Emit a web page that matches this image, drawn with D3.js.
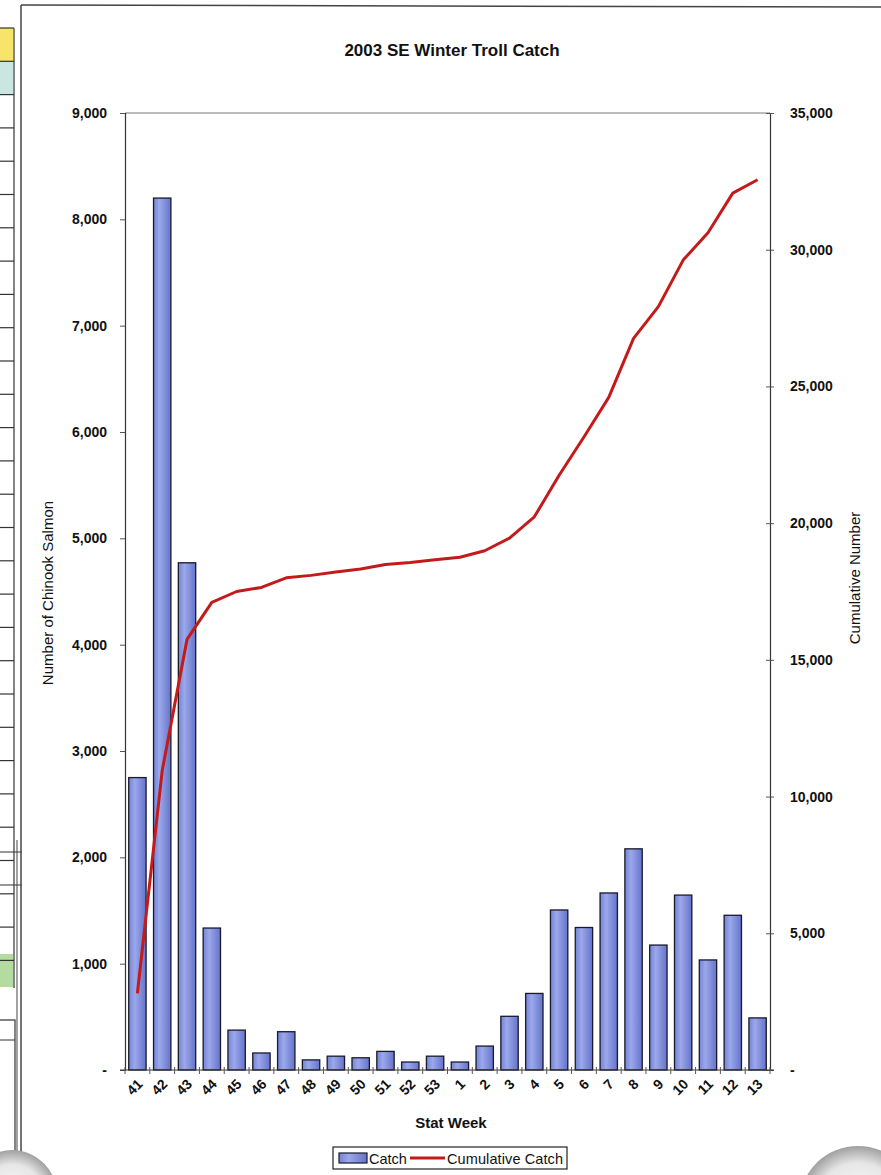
<!DOCTYPE html>
<html>
<head>
<meta charset="utf-8">
<script src="https://cdn.jsdelivr.net/npm/d3@7"></script>
<style>
  html, body { margin: 0; padding: 0; background: #fff; }
  svg { display: block; }
  text { font-family: "Liberation Sans", Arial, sans-serif; fill: #111; }
</style>
</head>
<body>
<svg id="chart" width="881" height="1175"></svg>
<script>
// ---- data ----
const weeks = ["41","42","43","44","45","46","47","48","49","50","51","52","53",
               "1","2","3","4","5","6","7","8","9","10","11","12","13"];
const catchValues = [2750, 8200, 4770, 1335, 375, 160, 360, 95, 130, 115, 175, 75, 130,
                     75, 225, 505, 720, 1505, 1340, 1665, 2080, 1175, 1645, 1035, 1455, 490];
const cumulativeValues = [2800, 10950, 15750, 17100, 17500, 17650, 18000, 18090, 18210, 18320, 18490, 18560, 18660,
                          18750, 18990, 19450, 20230, 21750, 23150, 24600, 26760, 27920, 29620, 30620, 32070, 32560];
const leftTicks = [0, 1000, 2000, 3000, 4000, 5000, 6000, 7000, 8000, 9000];
const rightTicks = [0, 5000, 10000, 15000, 20000, 25000, 30000, 35000];
const titleText = "2003 SE Winter Troll Catch";
const xTitle = "Stat Week";
const yLeftTitle = "Number of Chinook Salmon";
const yRightTitle = "Cumulative Number";
const legendLabels = ["Catch", "Cumulative Catch"];

// ---- layout ----
const svg = d3.select("#chart");
const L = 125, R = 770, T = 113, B = 1070;
const fmt = d => d === 0 ? "-" : d3.format(",")(d);
const FONT = "'Liberation Sans', Arial, sans-serif";

// page decorations (scanned spreadsheet edge / frame)
const deco = svg.append("g");
const rowTops = d3.range(0, 30).map(k => 28 + k * 33.3);
deco.append("rect").attr("x", -1).attr("y", 28).attr("width", 14).attr("height", 33).attr("fill", "#f7e56a");
deco.append("rect").attr("x", -1).attr("y", 61).attr("width", 14).attr("height", 33).attr("fill", "#c9e6e0");
deco.append("rect").attr("x", -1).attr("y", 954).attr("width", 14).attr("height", 33).attr("fill", "#b5dca0");
rowTops.filter(y => y < 990).forEach(y => {
  deco.append("line").attr("x1", 0).attr("x2", 14).attr("y1", y).attr("y2", y)
    .attr("stroke", "#333").attr("stroke-width", 1.2);
});
deco.append("line").attr("x1", 14).attr("x2", 14).attr("y1", 28).attr("y2", 988).attr("stroke", "#333").attr("stroke-width", 1.2);
deco.append("line").attr("x1", 0).attr("x2", 22).attr("y1", 852).attr("y2", 852).attr("stroke", "#333");
deco.append("line").attr("x1", 0).attr("x2", 22).attr("y1", 885).attr("y2", 885).attr("stroke", "#333");
deco.append("rect").attr("x", -2).attr("y", 1020).attr("width", 17).attr("height", 160)
  .attr("fill", "none").attr("stroke", "#333").attr("stroke-width", 1.2);
deco.append("line").attr("x1", 0).attr("x2", 15).attr("y1", 1040).attr("y2", 1040).attr("stroke", "#333");
// frame
deco.append("line").attr("x1", 21).attr("x2", 881).attr("y1", 5).attr("y2", 7).attr("stroke", "#444").attr("stroke-width", 1.5);
deco.append("line").attr("x1", 21).attr("x2", 21).attr("y1", 5).attr("y2", 1160).attr("stroke", "#444").attr("stroke-width", 1.5);
deco.append("line").attr("x1", 17).attr("x2", 17).attr("y1", 840).attr("y2", 1160).attr("stroke", "#444").attr("stroke-width", 1);

// corner shadows
const defs = svg.append("defs");
const rg = defs.append("radialGradient").attr("id", "cornerGrad");
rg.append("stop").attr("offset", "0%").attr("stop-color", "#ffffff");
rg.append("stop").attr("offset", "70%").attr("stop-color", "#e6e6e6");
rg.append("stop").attr("offset", "100%").attr("stop-color", "#a0a0a0");
deco.append("ellipse").attr("cx", 12).attr("cy", 1198).attr("rx", 46).attr("ry", 48).attr("fill", "url(#cornerGrad)");
deco.append("ellipse").attr("cx", 858).attr("cy", 1202).attr("rx", 58).attr("ry", 56).attr("fill", "url(#cornerGrad)");

// bar gradient
const bg = defs.append("linearGradient").attr("id", "barGrad").attr("x1", "0%").attr("x2", "100%");
bg.append("stop").attr("offset", "0%").attr("stop-color", "#7484d6");
bg.append("stop").attr("offset", "35%").attr("stop-color", "#9ba8ea");
bg.append("stop").attr("offset", "100%").attr("stop-color", "#6573cc");

// scales
const x = d3.scaleBand().domain(weeks).range([L, R]).paddingInner(0.3).paddingOuter(0.15);
const yL = d3.scaleLinear().domain([0, 9000]).range([B, T]);
const yR = d3.scaleLinear().domain([0, 35000]).range([B, T]);

// plot frame top
svg.append("line").attr("x1", L).attr("x2", R).attr("y1", T).attr("y2", T).attr("stroke", "#777").attr("stroke-width", 1);

// bars
svg.append("g").selectAll("rect").data(weeks).join("rect")
  .attr("x", d => x(d))
  .attr("y", (d, i) => yL(catchValues[i]))
  .attr("width", x.bandwidth())
  .attr("height", (d, i) => B - yL(catchValues[i]))
  .attr("fill", "url(#barGrad)")
  .attr("stroke", "#1a1a2a").attr("stroke-width", 1.3);

// left axis
const axL = svg.append("g").attr("transform", `translate(${L},0)`)
  .call(d3.axisLeft(yL).tickValues(leftTicks).tickFormat(fmt).tickSize(5).tickPadding(13));
axL.select(".domain").attr("stroke", "#333").attr("stroke-width", 1.2);
axL.selectAll(".tick line").attr("stroke", "#555");
axL.selectAll("text").style("font-size", "14px").style("font-weight", "bold")
  .style("font-family", FONT).attr("fill", "#111");

// right axis
const axR = svg.append("g").attr("transform", `translate(${R},0)`)
  .call(d3.axisRight(yR).tickValues(rightTicks).tickFormat(fmt).tickSizeInner(4).tickSizeOuter(0).tickPadding(16));
axR.selectAll(".tick line").attr("x1", -4).attr("stroke", "#555");
axR.select(".domain").attr("stroke", "#333").attr("stroke-width", 1.2);
axR.selectAll("text").style("font-size", "14px").style("font-weight", "bold")
  .style("font-family", FONT).attr("fill", "#111");

// x axis
const step = x.step();
const gx = svg.append("g");
gx.append("line").attr("x1", L - 5).attr("x2", R + 4).attr("y1", B).attr("y2", B).attr("stroke", "#333").attr("stroke-width", 1.2);
const bounds = weeks.map(d => x(d) - step * x.paddingInner() / 2).concat([R]);
gx.selectAll("line.tk").data(bounds).join("line").attr("class", "tk")
  .attr("x1", d => d).attr("x2", d => d).attr("y1", B - 3).attr("y2", B + 4)
  .attr("stroke", "#555");
gx.selectAll("text").data(weeks).join("text")
  .attr("transform", d => `translate(${x(d) + x.bandwidth() / 2 + 6},${B + 15}) rotate(-45)`)
  .attr("text-anchor", "end")
  .style("font-size", "14px").style("font-weight", "bold")
  .text(d => d);

// cumulative line
const line = d3.line()
  .x((d, i) => x(weeks[i]) + x.bandwidth() / 2)
  .y(d => yR(d));
svg.append("path").datum(cumulativeValues)
  .attr("d", line).attr("fill", "none")
  .attr("stroke", "#c41a1a").attr("stroke-width", 3).attr("stroke-linejoin", "round");

// titles
svg.append("text").attr("x", 452).attr("y", 56).attr("text-anchor", "middle")
  .style("font-size", "17px").style("font-weight", "bold").text(titleText);
svg.append("text").attr("x", 451).attr("y", 1128).attr("text-anchor", "middle")
  .style("font-size", "15px").style("font-weight", "bold").text(xTitle);
svg.append("text").attr("transform", `translate(53,593) rotate(-90)`).attr("text-anchor", "middle")
  .style("font-size", "15px").text(yLeftTitle);
svg.append("text").attr("transform", `translate(860,578) rotate(-90)`).attr("text-anchor", "middle")
  .style("font-size", "15px").text(yRightTitle);

// legend
const lg = svg.append("g");
lg.append("rect").attr("x", 333).attr("y", 1147).attr("width", 234).attr("height", 22)
  .attr("fill", "#fff").attr("stroke", "#222").attr("stroke-width", 1.2);
lg.append("rect").attr("x", 339).attr("y", 1153).attr("width", 28).attr("height", 10)
  .attr("fill", "url(#barGrad)").attr("stroke", "#1a1a2a").attr("stroke-width", 1.2);
lg.append("text").attr("x", 369).attr("y", 1164).style("font-size", "14.5px").text(legendLabels[0]);
lg.append("line").attr("x1", 410).attr("x2", 445).attr("y1", 1158).attr("y2", 1158)
  .attr("stroke", "#c41a1a").attr("stroke-width", 3);
lg.append("text").attr("x", 447).attr("y", 1164).style("font-size", "14.5px").attr("textLength", 116).text(legendLabels[1]);
</script>
</body>
</html>
